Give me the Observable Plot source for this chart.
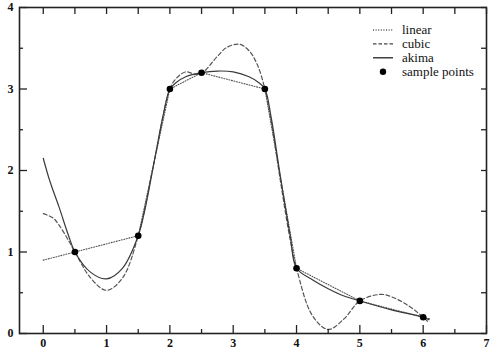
<!DOCTYPE html>
<html>
<head>
<meta charset="utf-8">
<script src="https://cdn.jsdelivr.net/npm/d3@7"></script>
<script src="https://cdn.jsdelivr.net/npm/@observablehq/plot@0.6"></script>
<style>
  body { margin: 0; background: #fff; }
  #wrap { position: relative; width: 498px; height: 352px; }
  #legend { position: absolute; left: 0; top: 0; }
  svg, svg text { font-family: "Liberation Serif", "Times New Roman", Times, "DejaVu Serif", serif !important; }
</style>
</head>
<body>
<div id="wrap"></div>
<script>
// ---- data ----
const sampleX = [0.5, 1.5, 2, 2.5, 3.5, 4, 5, 6];
const sampleY = [1, 1.2, 3, 3.2, 3, 0.8, 0.4, 0.2];

const linearX = [0, 0.5, 1.5, 2, 2.5, 3.5, 4, 5, 6, 6.1];
const linearY = [0.9, 1, 1.2, 3, 3.2, 3, 0.8, 0.4, 0.2, 0.18];

const cubicX = [0, 0.15, 0.25, 0.4, 0.5, 0.75, 1, 1.25, 1.5, 1.75, 2, 2.1, 2.25, 2.4, 2.5, 2.75, 2.9, 3.1, 3.25, 3.38, 3.5, 3.6, 3.75, 3.9, 4, 4.25, 4.5, 4.75, 5, 5.33, 5.5, 5.75, 6, 6.08];
const cubicY = [1.47, 1.42, 1.33, 1.14, 1.0, 0.68, 0.53, 0.68, 1.2, 2.1, 3.0, 3.13, 3.21, 3.18, 3.19, 3.40, 3.51, 3.55, 3.47, 3.30, 3.0, 2.6, 1.85, 1.15, 0.8, 0.22, 0.05, 0.18, 0.4, 0.48, 0.45, 0.35, 0.2, 0.14];

const akimaX = [0, 0.1, 0.25, 0.4, 0.5, 0.75, 1, 1.25, 1.5, 1.6, 1.75, 1.9, 2, 2.1, 2.25, 2.5, 2.75, 3, 3.25, 3.4, 3.5, 3.6, 3.75, 3.9, 4, 4.25, 4.5, 4.75, 5, 5.5, 6, 6.09];
const akimaY = [2.15, 1.88, 1.55, 1.2, 1.0, 0.75, 0.67, 0.8, 1.2, 1.5, 2.1, 2.7, 3.0, 3.08, 3.15, 3.2, 3.22, 3.21, 3.15, 3.08, 3.0, 2.65, 1.9, 1.2, 0.8, 0.66, 0.55, 0.46, 0.4, 0.29, 0.2, 0.17];

const xMajor = [0, 1, 2, 3, 4, 5, 6, 7];
const xMinor = [0.5, 1.5, 2.5, 3.5, 4.5, 5.5, 6.5];
const xAll = [0, 0.5, 1, 1.5, 2, 2.5, 3, 3.5, 4, 4.5, 5, 5.5, 6, 6.5, 7];
const yMajor = [0, 1, 2, 3, 4];
const yMinor = [0.5, 1.5, 2.5, 3.5];
const yAll = [0, 0.5, 1, 1.5, 2, 2.5, 3, 3.5, 4];

const legendLabels = ["linear", "cubic", "akima", "sample points"];

const zip = (xs, ys) => xs.map((x, i) => ({x, y: ys[i]}));
const samples = zip(sampleX, sampleY);
const linear = zip(linearX, linearY);
const cubic = zip(cubicX, cubicY);
const akima = zip(akimaX, akimaY);

const axisColor = "#222";
const font = "'Liberation Serif', 'Times New Roman', serif";

const chart = Plot.plot({
  width: 498,
  height: 352,
  marginLeft: 19,
  marginRight: 12,
  marginTop: 7,
  marginBottom: 19,
  style: {fontFamily: font, fontSize: "12px", color: "#000", background: "#fff"},
  x: {domain: [-0.375, 7]},
  y: {domain: [0, 4]},
  marks: [
    // linear (dotted)
    Plot.line(linear, {x: "x", y: "y", stroke: "#555", strokeWidth: 1.1, strokeDasharray: "1,1.6"}),
    // cubic (dashed)
    Plot.line(cubic, {x: "x", y: "y", curve: "catmull-rom", stroke: "#555", strokeWidth: 1.2, strokeDasharray: "4,2.5"}),
    // akima (solid)
    Plot.line(akima, {x: "x", y: "y", curve: "catmull-rom", stroke: "#3a3a3a", strokeWidth: 1.2}),
    Plot.dot(samples, {x: "x", y: "y", r: 3.3, fill: "#000", stroke: "none"}),
    // inward ticks
    Plot.axisX(xMajor, {anchor: "bottom", tickSize: -8, fill: "none", label: null, stroke: axisColor, strokeWidth: 1.3}),
    Plot.axisX(xMinor, {anchor: "bottom", tickSize: -4, fill: "none", label: null, stroke: axisColor, strokeWidth: 1.3}),
    Plot.axisX(xAll, {anchor: "top", tickSize: -6, fill: "none", label: null, stroke: axisColor, strokeWidth: 1.3}),
    Plot.axisY(yMajor, {anchor: "left", tickSize: -8, fill: "none", label: null, stroke: axisColor, strokeWidth: 1.3}),
    Plot.axisY(yMinor, {anchor: "left", tickSize: -4, fill: "none", label: null, stroke: axisColor, strokeWidth: 1.3}),
    Plot.axisY(yAll, {anchor: "right", tickSize: -6, fill: "none", label: null, stroke: axisColor, strokeWidth: 1.3}),
    // tick labels
    Plot.axisX(xMajor, {anchor: "bottom", tickSize: 0, tickPadding: 5, label: null, fontSize: 12, fontWeight: "bold", fill: "#111", tickFormat: d => String(d)}),
    Plot.axisY(yMajor, {anchor: "left", tickSize: 0, tickPadding: 6, label: null, fontSize: 12, fontWeight: "bold", fill: "#111", tickFormat: d => String(d)}),
    Plot.frame({stroke: axisColor, strokeWidth: 1.6})
  ]
});

const wrap = document.getElementById("wrap");
wrap.appendChild(chart);

// legend overlay (top-right inside the frame)
const lg = d3.select(wrap).append("svg")
  .attr("id", "legend").attr("width", 498).attr("height", 352)
  .style("pointer-events", "none");
const styles = [
  {dash: "1,1.6", color: "#555"},
  {dash: "3.5,2", color: "#444"},
  {dash: null, color: "#222"},
  {dot: true}
];
legendLabels.forEach((lab, i) => {
  const yy = 30 + i * 13.9;
  const s = styles[i];
  if (s.dot) {
    lg.append("circle").attr("cx", 383).attr("cy", yy).attr("r", 3.2).attr("fill", "#000");
  } else {
    lg.append("line").attr("x1", 373).attr("x2", 393).attr("y1", yy).attr("y2", yy)
      .attr("stroke", s.color).attr("stroke-width", 1.3)
      .attr("stroke-dasharray", s.dash);
  }
  lg.append("text").attr("x", 402).attr("y", yy).attr("dy", "0.32em")
    .attr("font-size", 13).attr("fill", "#111").text(lab);
});
</script>
</body>
</html>
